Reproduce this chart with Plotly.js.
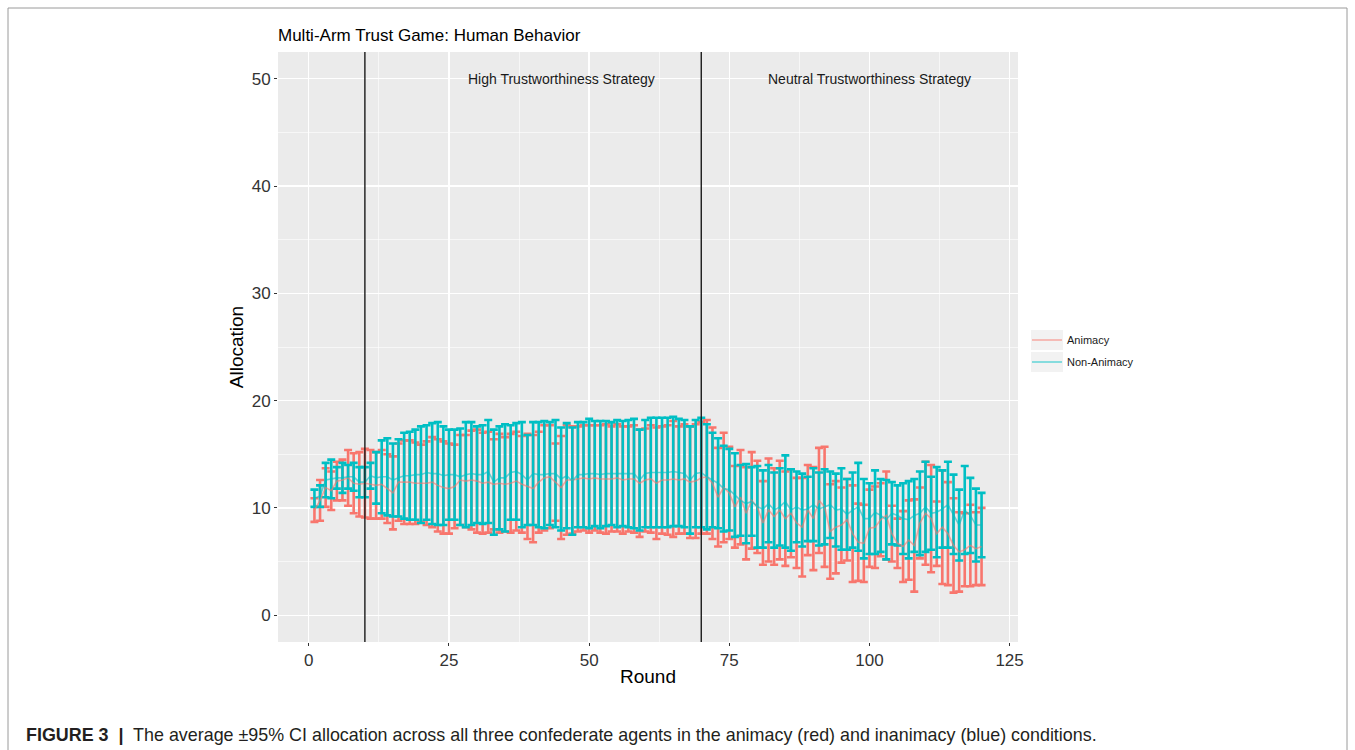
<!DOCTYPE html>
<html>
<head>
<meta charset="utf-8">
<script src="https://cdn.plot.ly/plotly-3.0.1.min.js"></script>
<style>html,body{margin:0;padding:0;background:#fff;}#chart{width:1355px;height:750px;}</style>
</head>
<body>
<div id="chart"></div>
<script>
const rounds = Array.from({length: 120}, (_, i) => i + 1);
const seriesNames = ["Animacy", "Non-Animacy"];
const xTicks = [0, 25, 50, 75, 100, 125];
const yTicks = [0, 10, 20, 30, 40, 50];
const phaseBreaks = [10, 70];
const phaseLabels = ["High Trustworthiness Strategy", "Neutral Trustworthiness Strategy"];
const phaseLabelX = [45, 100];

const animacyMean = [
  9.8, 10.7, 11.9, 11.6, 12.5, 12.6, 12.8, 12.3, 12.2, 12.3,
  12.2, 12.1, 12.2, 11.8, 11.4, 12.4, 12.4, 12.4, 12.3, 12.3,
  12.3, 12.4, 12.1, 11.9, 11.8, 12.0, 12.6, 12.5, 12.6, 12.5,
  12.3, 12.4, 12.2, 12.3, 12.2, 12.3, 12.5, 12.2, 12.0, 11.8,
  12.4, 12.8, 12.9, 12.4, 11.9, 12.6, 12.6, 12.7, 12.8, 12.7,
  12.8, 12.7, 12.7, 12.7, 12.8, 12.6, 12.7, 12.7, 12.3, 12.6,
  12.7, 12.3, 12.6, 12.6, 12.7, 12.6, 12.7, 12.4, 12.5, 12.8,
  12.9, 12.3, 11.0, 11.9, 11.4, 10.1, 11.0, 9.5, 10.7, 10.1,
  8.6, 9.8, 9.2, 9.8, 9.0, 9.5, 8.6, 8.2, 9.8, 9.0,
  10.7, 10.1, 7.8, 8.2, 8.4, 8.9, 7.6, 6.8, 6.7, 8.1,
  8.2, 8.9, 9.3, 7.6, 6.7, 6.4, 7.0, 6.5, 8.6, 9.5,
  9.0, 7.6, 8.2, 7.6, 6.5, 5.9, 6.1, 6.5, 6.2, 6.4
];
const animacyCI = [
  1.1, 1.9, 1.8, 1.8, 1.8, 1.9, 2.6, 2.8, 3.0, 3.2,
  3.2, 3.1, 3.2, 3.2, 3.4, 3.6, 3.9, 3.9, 3.8, 3.6,
  3.9, 4.2, 4.3, 4.3, 4.2, 3.9, 4.2, 4.3, 4.6, 4.8,
  4.7, 4.7, 4.2, 4.6, 4.4, 4.6, 4.6, 4.5, 4.9, 5.0,
  4.7, 4.9, 4.8, 3.6, 4.8, 5.1, 5.0, 4.9, 4.9, 5.0,
  4.9, 5.0, 5.1, 4.9, 5.0, 5.0, 4.9, 5.0, 5.0, 4.8,
  5.0, 5.2, 5.0, 5.1, 5.4, 5.0, 5.1, 5.2, 5.3, 5.2,
  5.3, 5.2, 4.6, 5.1, 4.3, 3.8, 4.4, 4.3, 4.5, 4.3,
  3.9, 4.8, 4.5, 4.6, 4.4, 4.1, 4.2, 4.6, 4.2, 4.8,
  4.9, 5.6, 4.4, 4.3, 3.5, 3.8, 4.5, 3.6, 3.6, 3.6,
  3.8, 3.4, 4.1, 2.6, 2.3, 3.3, 3.7, 4.3, 3.3, 4.8,
  5.0, 3.0, 5.3, 4.8, 4.4, 3.7, 3.4, 3.8, 3.4, 3.6
];
const nonAnimacyMean = [
  10.9, 11.1, 12.6, 12.7, 12.8, 12.8, 12.9, 12.9, 12.4, 12.4,
  13.0, 12.8, 12.9, 12.9, 12.6, 12.8, 13.0, 13.0, 13.1, 13.1,
  13.3, 13.2, 13.2, 13.0, 13.1, 13.1, 12.9, 13.1, 13.2, 13.1,
  13.1, 13.4, 12.4, 12.8, 12.8, 13.3, 13.4, 13.1, 12.6, 13.2,
  13.1, 13.1, 13.2, 13.2, 12.7, 13.0, 12.5, 13.1, 13.1, 13.2,
  13.2, 13.1, 13.2, 13.2, 13.2, 13.2, 13.2, 13.2, 12.6, 13.2,
  13.3, 13.3, 13.3, 13.3, 13.4, 13.3, 13.2, 12.6, 13.2, 13.3,
  12.9, 12.6, 12.3, 11.8, 11.7, 11.2, 10.7, 10.4, 10.6, 10.1,
  9.9, 10.4, 9.8, 10.1, 10.6, 9.8, 10.1, 9.8, 9.9, 10.3,
  9.9, 10.1, 10.3, 9.8, 9.9, 9.4, 9.8, 10.1, 9.0, 9.0,
  9.6, 9.3, 8.9, 9.5, 9.3, 9.0, 8.9, 9.3, 9.5, 10.1,
  9.5, 9.6, 9.9, 10.3, 9.4, 8.4, 9.8, 9.3, 8.4, 8.4
];
const nonAnimacyCI = [
  0.8, 1.0, 1.6, 1.8, 1.0, 1.4, 1.1, 1.3, 1.4, 1.4,
  1.2, 2.4, 3.4, 3.6, 3.4, 3.6, 4.0, 4.1, 4.2, 4.5,
  4.4, 4.7, 4.8, 4.6, 4.2, 4.2, 4.5, 4.9, 4.8, 4.5,
  4.6, 4.8, 4.9, 4.8, 5.0, 4.4, 4.5, 4.9, 4.2, 4.8,
  4.9, 5.0, 4.8, 5.0, 4.8, 4.9, 5.0, 4.9, 4.9, 5.1,
  4.9, 5.0, 4.9, 4.8, 5.0, 4.9, 5.0, 5.1, 4.7, 5.0,
  5.1, 5.1, 5.1, 5.1, 5.1, 5.0, 5.0, 5.0, 5.0, 5.1,
  4.9, 4.4, 4.2, 4.0, 3.8, 3.9, 3.3, 3.7, 3.2, 3.8,
  3.6, 3.6, 3.5, 3.6, 4.3, 3.8, 3.3, 3.4, 3.0, 3.4,
  3.4, 3.5, 3.1, 3.4, 3.8, 3.3, 3.5, 4.1, 3.7, 3.3,
  3.9, 3.4, 3.7, 2.9, 2.8, 3.3, 3.6, 3.4, 3.9, 4.2,
  3.4, 4.2, 3.6, 4.0, 3.7, 3.3, 4.1, 3.5, 3.4, 3.0
];

const RED = "#F8766D", TEAL = "#00BFC4";
const FONT = "Liberation Sans, Arial, sans-serif";
const W = 1355, H = 750;
const M = {l: 278, r: 337, t: 52, b: 108};
const PW = W - M.l - M.r, PH = H - M.t - M.b;
const px = v => (v - M.l) / PW;          // page px -> paper x
const py = v => (H - M.b - v) / PH;      // page px -> paper y

function errTrace(y, ci, color) {
  return {
    x: rounds, y: y, type: "scatter", mode: "markers",
    marker: {size: 1, color: color, opacity: 0},
    error_y: {type: "data", array: ci, visible: true, color: color, thickness: 2.6, width: 4},
    showlegend: false, hoverinfo: "skip"
  };
}
function lineTrace(y, color, name) {
  return {
    x: rounds, y: y, type: "scatter", mode: "lines", name: name,
    line: {color: color, width: 1.6}, opacity: 0.6, legendgroup: name
  };
}

const traces = [
  errTrace(animacyMean, animacyCI, RED),
  errTrace(nonAnimacyMean, nonAnimacyCI, TEAL),
  lineTrace(animacyMean, RED, seriesNames[0]),
  lineTrace(nonAnimacyMean, TEAL, seriesNames[1])
];

const shapes = phaseBreaks.map(b => ({
  type: "line", xref: "x", yref: "paper", x0: b, x1: b, y0: 0, y1: 1,
  line: {color: "#1a1a1a", width: 1.4}, layer: "above"
}));
// figure border
shapes.push({type: "rect", xref: "paper", yref: "paper",
  x0: px(8), x1: px(1347), y0: py(760), y1: py(8),
  line: {color: "#9a9a9a", width: 1}, fillcolor: "rgba(0,0,0,0)", layer: "below"});
// legend key backgrounds
[[330, 350], [352, 372]].forEach(([a, b]) => shapes.push({
  type: "rect", xref: "paper", yref: "paper",
  x0: px(1031), x1: px(1063), y0: py(b), y1: py(a),
  line: {width: 0}, fillcolor: "#F2F2F2", layer: "below"}));

const annotations = phaseLabels.map((t, i) => ({
  text: t, x: phaseLabelX[i], y: 50, xref: "x", yref: "y",
  showarrow: false, font: {family: FONT, size: 14, color: "#1a1a1a"}
}));
annotations.push({
  text: "<b>FIGURE 3</b>  <b>|</b>  The average ±95% CI allocation across all three confederate agents in the animacy (red) and inanimacy (blue) conditions.",
  xref: "paper", yref: "paper", x: px(24), y: py(735), xanchor: "left", yanchor: "middle",
  showarrow: false, font: {family: FONT, size: 17.9, color: "#231f20"}
});

const axisFont = {family: FONT, size: 17, color: "#333"};
const layout = {
  width: W, height: H, margin: M,
  paper_bgcolor: "#ffffff", plot_bgcolor: "#EBEBEB",
  font: {family: FONT},
  title: {text: "Multi-Arm Trust Game: Human Behavior", x: px(278), xref: "paper", xanchor: "left",
    y: 1 - 35 / H, yref: "container", yanchor: "middle",
    font: {family: FONT, size: 17, color: "#000"}},
  xaxis: {
    range: [-5.5, 126.5], tickvals: xTicks, ticktext: xTicks.map(String),
    showgrid: true, gridcolor: "#ffffff", gridwidth: 1.3, zeroline: false,
    minor: {dtick: 12.5, tick0: 12.5, showgrid: true, gridcolor: "#ffffff", gridwidth: 0.6},
    ticks: "outside", ticklen: 3, tickcolor: "#333", tickwidth: 1,
    tickfont: axisFont, showline: false, automargin: false,
    title: {text: "Round", standoff: 0, font: {family: FONT, size: 19, color: "#000"}}
  },
  yaxis: {
    range: [-2.5, 52.5], tickvals: yTicks, ticktext: yTicks.map(String),
    showgrid: true, gridcolor: "#ffffff", gridwidth: 1.3, zeroline: false,
    minor: {dtick: 10, tick0: 5, showgrid: true, gridcolor: "#ffffff", gridwidth: 0.6},
    ticks: "outside", ticklen: 3, tickcolor: "#333", tickwidth: 1,
    tickfont: axisFont, showline: false, automargin: false,
    title: {text: "Allocation", standoff: 3, font: {family: FONT, size: 19, color: "#000"}}
  },
  legend: {x: px(1027), xanchor: "left", y: py(351), yanchor: "middle",
    bgcolor: "rgba(0,0,0,0)", font: {family: FONT, size: 11, color: "#1a1a1a"},
    itemwidth: 30, tracegroupgap: 3},
  shapes: shapes, annotations: annotations, showlegend: true
};

Plotly.newPlot("chart", traces, layout, {displayModeBar: false, staticPlot: true});
</script>
</body>
</html>
